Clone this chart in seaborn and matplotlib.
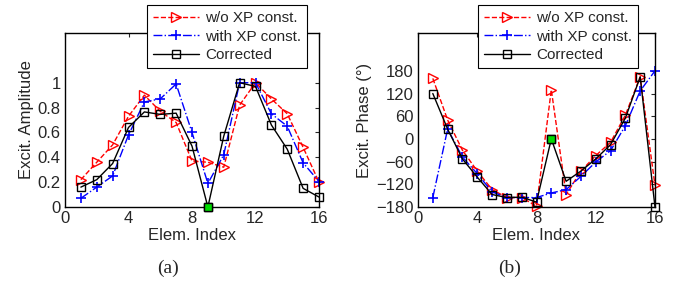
import numpy as np
import pandas as pd
import seaborn as sns
import matplotlib
matplotlib.use("Agg")
import matplotlib.pyplot as plt

# element index 1..16
elem = list(range(1, 17))

# amplitude (panel a)
amp_wo = [0.22, 0.36, 0.50, 0.73, 0.90, 0.77, 0.68, 0.37, 0.36, 0.32, 0.82, 1.00, 0.87, 0.75, 0.48, 0.20]
amp_with = [0.07, 0.16, 0.25, 0.58, 0.845, 0.87, 0.99, 0.60, 0.19, 0.42, 1.00, 1.00, 0.75, 0.65, 0.355, 0.205]
amp_corr = [0.16, 0.22, 0.35, 0.64, 0.765, 0.745, 0.755, 0.49, 0.0, 0.57, 1.00, 0.97, 0.66, 0.465, 0.15, 0.08]

# phase in degrees (panel b)
ph_wo = [160, 50, -30, -85, -134, -155, -155, -178, 130, -147, -85, -44, -9, 63, 164, -123]
ph_with = [-155, 26, -48, -92, -140, -155, -155, -155, -143, -134, -99, -61, -31, 35, 127, 180]
ph_corr = [120, 26, -53, -101, -147, -155, -154, -167, 0, -112, -85, -53, -15, 55, 164, -180]

highlight = 9  # element shown in green

sns.set_style("white")
plt.rcParams['font.family'] = ['Liberation Sans', 'DejaVu Sans']
plt.rcParams['xtick.direction'] = 'in'
plt.rcParams['ytick.direction'] = 'in'
plt.rcParams['axes.edgecolor'] = 'black'
plt.rcParams['axes.linewidth'] = 1.0

fig = plt.figure(figsize=(6.81, 2.83), dpi=100)
W, H = 681, 283
ax1 = fig.add_axes([65 / W, 1 - 207 / H, 254 / W, 174 / H])
ax2 = fig.add_axes([418 / W, 1 - 207 / H, 237 / W, 174 / H])

fs = 12


def draw(ax, wo, wi, co, ylim, yticks, ylabel, leg_x):
    df = pd.DataFrame({"x": elem, "wo": wo, "wi": wi, "co": co})
    sns.lineplot(data=df, x="x", y="wo", ax=ax, color="red", linestyle="--",
                 marker=">", markerfacecolor="none", markeredgecolor="red",
                 markersize=7, mew=1, lw=1, label="w/o XP const.")
    sns.lineplot(data=df, x="x", y="wi", ax=ax, color="blue", linestyle="-.",
                 marker="+", markeredgecolor="blue", markersize=7, mew=1.2,
                 lw=1, label="with XP const.")
    sns.lineplot(data=df, x="x", y="co", ax=ax, color="black", linestyle="-",
                 marker="s", markerfacecolor="none", markeredgecolor="black",
                 markersize=5.5, mew=1, lw=1, label="Corrected")
    pt = df[df["x"] == highlight]
    ax.plot(pt["x"], pt["co"], marker="s", color="#00dd00", markeredgecolor="black",
            markersize=6, mew=1, ls="none", clip_on=False, zorder=5)
    ax.set_xlim(0, 16)
    ax.set_ylim(*ylim)
    ax.set_xticks([0, 4, 8, 12, 16])
    ax.set_yticks(yticks)
    ax.set_xlabel("Elem. Index", fontsize=fs, labelpad=1)
    ax.set_ylabel(ylabel, fontsize=fs, labelpad=3)
    ax.tick_params(labelsize=fs, length=3, top=True, right=True, pad=3)
    for sp in ax.spines.values():
        sp.set_visible(True)
        sp.set_color("black")
    leg = ax.legend(loc="upper right", bbox_to_anchor=(leg_x, 1.161), fontsize=11,
                    handlelength=3, frameon=True, fancybox=False, edgecolor="black",
                    framealpha=1, borderpad=0.4, labelspacing=0.3, handletextpad=0.4,
                    borderaxespad=0)
    leg.get_frame().set_linewidth(0.8)
    for line in ax.get_lines():
        line.set_clip_on(False)


draw(ax1, amp_wo, amp_with, amp_corr, (0, 1.4), [0, 0.2, 0.4, 0.6, 0.8, 1.0],
     "Excit. Amplitude", (307 - 65) / 254)
ax1.set_yticklabels(["0", "0.2", "0.4", "0.6", "0.8", "1"])
draw(ax2, ph_wo, ph_with, ph_corr, (-180, 280), [-180, -120, -60, 0, 60, 120, 180],
     "Excit. Phase (°)", (638 - 418) / 237)
ax2.set_yticklabels(["\u2212180", "\u2212120", "\u221260", "0", "60", "120", "180"])

fig.text(168 / W, 1 - 268 / H, "(a)", fontsize=14, family="Liberation Serif", ha="center", va="center")
fig.text(510 / W, 1 - 268 / H, "(b)", fontsize=14, family="Liberation Serif", ha="center", va="center")

fig.savefig("out.png", dpi=100)
